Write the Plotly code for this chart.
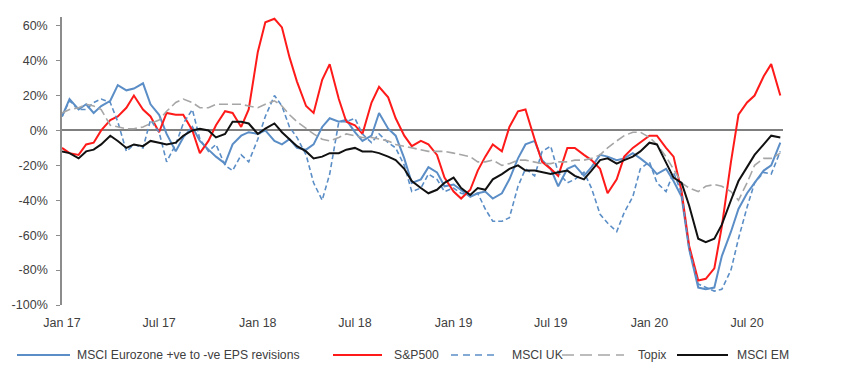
import pandas as pd
import plotly.graph_objects as go

dates = pd.date_range("2017-01-01", periods=89, freq="SMS")

eurozone = [8, 18, 12, 15, 10, 14, 17, 26, 23, 24,
            27, 15, 9, -2, -12, -4, 2, -6, -11, -15,
            -19, -8, -3, -1, -2, 0, -6, -8, -5, -10,
            -11, -8, 2, 7, 5, 6, -1, -6, -3, 10,
            1, -3, -16, -30, -28, -21, -24, -32, -31, -34,
            -38, -36, -35, -39, -36, -28, -16, -8, -6, -17,
            -22, -32, -22, -20, -26, -21, -14, -15, -17, -16,
            -13, -16, -20, -25, -22, -29, -38, -68, -90, -91,
            -90, -72, -58, -45, -36, -30, -23, -20, -7]

sp500 = [-10, -13, -14, -8, -7, 0, 6, 8, 13, 20,
         12, 8, -1, 10, 9, 9, 0, -13, -6, 3,
         11, 10, 2, 12, 45, 62, 64, 59, 42, 28,
         14, 10, 29, 38, 18, 5, 3, -2, 16, 25,
         19, 7, -3, -9, -6, -8, -14, -27, -35, -39,
         -34, -23, -15, -8, -12, 2, 11, 12, -5, -18,
         -22, -26, -10, -10, -14, -17, -22, -36, -28, -15,
         -10, -7, -3, -3, -10, -15, -35, -66, -86, -85,
         -79, -55, -18, 9, 16, 20, 31, 38, 20]

msci_uk = [8, 17, 12, 12, 16, 18, 16, 5, -12, -8,
           -10, 6, -1, -18, -8, 4, 12, -5, -12, -8,
           -20, -23, -14, -18, -5, 8, 20, 14, 2, -4,
           -14, -30, -40, -25, 5, 5, 7, -2, -7, -2,
           -7, -10, -20, -35, -33, -25, -28, -35, -33, -36,
           -37, -36, -45, -52, -52, -50, -32, -22, -26, -12,
           -9, -24, -30, -28, -24, -33, -48, -53, -58, -47,
           -38, -22, -18, -30, -35, -24, -36, -68, -88, -90,
           -92, -91, -80, -62, -44, -30, -24, -25, -12]

topix = [10, 12, 13, 15, 14, 12, 3, 2, 1, 1,
         2, 4, 6, 11, 16, 18, 16, 13, 13, 15,
         15, 15, 15, 14, 13, 15, 17, 14, 9, 5,
         1, -2, -5, -6, -4, -2, -3, -4, -4, -5,
         -6, -8, -9, -10, -11, -12, -12, -12, -13, -14,
         -15, -18, -18, -17, -20, -19, -17, -17, -18, -19,
         -19, -18, -18, -17, -17, -16, -14, -10, -6, -3,
         -1, -1, -4, -8, -15, -22, -30, -33, -35, -32,
         -31, -32, -35, -40, -30, -20, -16, -16, -13]

msci_em = [-12, -13, -16, -12, -11, -8, -3, -6, -10, -8,
           -9, -6, -7, -8, -7, -3, 0, 1, 0, -4,
           -2, 5, 5, 4, -2, 1, 4, -1, -5, -9,
           -12, -16, -15, -13, -13, -11, -10, -12, -12, -13,
           -15, -17, -22, -29, -33, -36, -34, -30, -27, -33,
           -37, -33, -34, -28, -25, -22, -20, -23, -23, -24,
           -25, -24, -23, -26, -28, -23, -17, -16, -19, -17,
           -15, -12, -7, -8, -18, -27, -30, -43, -62, -64,
           -62, -54, -40, -29, -21, -14, -8, -3, -4]

tick_dates = ["2017-01-01", "2017-07-01", "2018-01-01", "2018-07-01",
              "2019-01-01", "2019-07-01", "2020-01-01", "2020-07-01"]
tick_labels = ["Jan 17", "Jul 17", "Jan 18", "Jul 18",
               "Jan 19", "Jul 19", "Jan 20", "Jul 20"]
y_ticks = [60, 40, 20, 0, -20, -40, -60, -80, -100]
y_labels = ["60%", "40%", "20%", "0%", "-20%", "-40%", "-60%", "-80%", "-100%"]

series_names = ["MSCI Eurozone +ve to -ve EPS revisions", "S&P500", "MSCI UK", "Topix", "MSCI EM"]
series_values = [eurozone, sp500, msci_uk, topix, msci_em]
series_colors = ["#5B8EC6", "#FF1A1A", "#5B8EC6", "#A6A6A6", "#111111"]
series_widths = [2, 2, 1.6, 1.6, 2]
series_dashes = ["solid", "solid", "5px,3px", "9px,4px", "solid"]
legend_dashes = ["solid", "solid", "7px,5px", "12px,6px", "solid"]

# page offset of the figure div (default body margin)
OFF = 8
W, H = 850, 380
# plot area edges in page pixels
PL, PR, PT, PB = 62, 783, 17, 305


def px_x(p):
    return (p - PL) / (PR - PL)


def px_y(p):
    return (PB - p) / (PB - PT)


legend_line_px = [(17, 70), (333, 382), (451, 499), (562, 624), (677, 728)]
legend_text_px = [75, 392, 510, 636, 735]
legend_y_px = 355

fig = go.Figure()
for name, vals, color, width, dash in zip(series_names, series_values, series_colors,
                                           series_widths, series_dashes):
    fig.add_trace(go.Scatter(x=dates, y=vals, mode="lines", name=name,
                             line=dict(color=color, width=width, dash=dash),
                             showlegend=False))

font_family = "Liberation Sans, Arial, sans-serif"
for name, color, width, dash, (x0, x1), tx in zip(series_names, series_colors, series_widths,
                                                   legend_dashes, legend_line_px, legend_text_px):
    fig.add_shape(type="line", xref="paper", yref="paper",
                  x0=px_x(x0), x1=px_x(x1), y0=px_y(legend_y_px), y1=px_y(legend_y_px),
                  line=dict(color=color, width=width, dash=dash))
    fig.add_annotation(xref="paper", yref="paper", x=px_x(tx), y=px_y(legend_y_px),
                       text=name, showarrow=False, xanchor="left", yanchor="middle",
                       font=dict(family=font_family, size=12.2, color="#404040"))

fig.update_layout(
    width=W, height=H,
    margin=dict(l=PL - OFF, r=W + OFF - PR, t=PT - OFF, b=H + OFF - PB, autoexpand=False),
    paper_bgcolor="white", plot_bgcolor="white",
    font=dict(family=font_family, size=12.5, color="#404040"),
    showlegend=False,
    xaxis=dict(range=["2017-01-01", "2020-09-06"], tickvals=tick_dates, ticktext=tick_labels,
               showgrid=False, showline=False, zeroline=False, ticks="",
               ticklabelstandoff=8,
               tickfont=dict(family=font_family, size=12.5, color="#404040")),
    yaxis=dict(range=[-100, 65], tickvals=y_ticks, ticktext=y_labels,
               showgrid=False, showline=True, linecolor="#8C8C8C", linewidth=1.5,
               ticks="outside", ticklen=4, tickcolor="#8C8C8C",
               ticklabelstandoff=6,
               zeroline=True, zerolinecolor="#7F7F7F", zerolinewidth=1.5,
               tickfont=dict(family=font_family, size=12.5, color="#404040")),
)

fig.write_html("out.html")
